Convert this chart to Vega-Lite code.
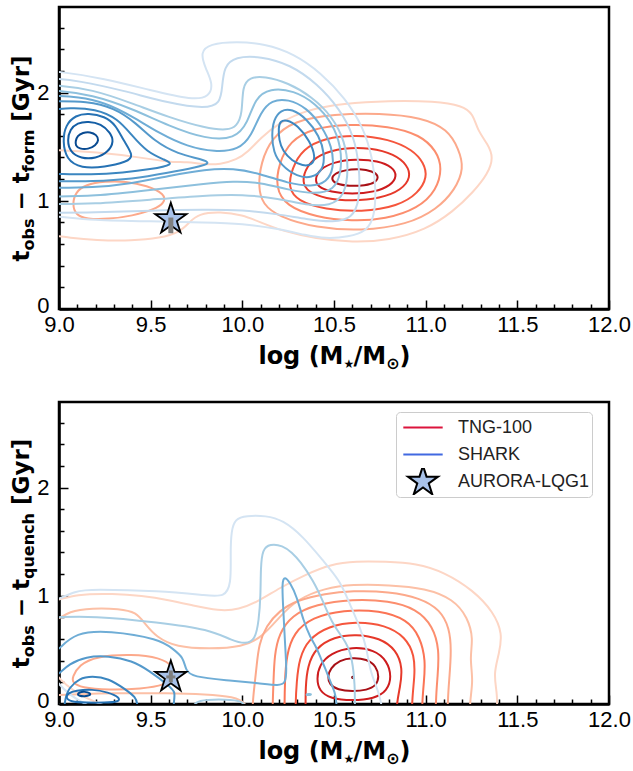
{
"$schema":"https://vega.github.io/schema/vega-lite/v6.json",
"background":"white",
"padding":{"left":8,"right":5,"top":5,"bottom":4},
"datasets":{
"topR":[
{"c":"T1","l":"r1","x":8.9,"y":1.47},{"c":"T1","l":"r1","x":8.98,"y":1.47},{"c":"T1","l":"r1","x":9.2,"y":1.45},{"c":"T1","l":"r1","x":9.45,"y":1.4},{"c":"T1","l":"r1","x":9.6,"y":1.355},{"c":"T1","l":"r1","x":9.7,"y":1.36},{"c":"T1","l":"r1","x":9.79,"y":1.335},{"c":"T1","l":"r1","x":9.88,"y":1.335},{"c":"T1","l":"r1","x":9.97,"y":1.38},{"c":"T1","l":"r1","x":10.03,"y":1.45},{"c":"T1","l":"r1","x":10.1,"y":1.58},{"c":"T1","l":"r1","x":10.2,"y":1.72},{"c":"T1","l":"r1","x":10.35,"y":1.84},{"c":"T1","l":"r1","x":10.55,"y":1.9},{"c":"T1","l":"r1","x":10.8,"y":1.925},{"c":"T1","l":"r1","x":11.05,"y":1.92},{"c":"T1","l":"r1","x":11.2,"y":1.88},{"c":"T1","l":"r1","x":11.26,"y":1.8},{"c":"T1","l":"r1","x":11.28,"y":1.66},{"c":"T1","l":"r1","x":11.34,"y":1.52},{"c":"T1","l":"r1","x":11.37,"y":1.4},{"c":"T1","l":"r1","x":11.34,"y":1.25},{"c":"T1","l":"r1","x":11.26,"y":1.08},{"c":"T1","l":"r1","x":11.15,"y":0.9},{"c":"T1","l":"r1","x":11.0,"y":0.73},{"c":"T1","l":"r1","x":10.8,"y":0.635},{"c":"T1","l":"r1","x":10.6,"y":0.615},{"c":"T1","l":"r1","x":10.4,"y":0.65},{"c":"T1","l":"r1","x":10.22,"y":0.72},{"c":"T1","l":"r1","x":10.1,"y":0.8},{"c":"T1","l":"r1","x":10.0,"y":0.87},{"c":"T1","l":"r1","x":9.88,"y":0.9},{"c":"T1","l":"r1","x":9.76,"y":0.88},{"c":"T1","l":"r1","x":9.71,"y":0.8},{"c":"T1","l":"r1","x":9.66,"y":0.71},{"c":"T1","l":"r1","x":9.55,"y":0.655},{"c":"T1","l":"r1","x":9.4,"y":0.63},{"c":"T1","l":"r1","x":9.2,"y":0.635},{"c":"T1","l":"r1","x":9.05,"y":0.66},{"c":"T1","l":"r1","x":8.98,"y":0.68},{"c":"T1","l":"r1","x":8.9,"y":0.68},
{"c":"T2","l":"r3","x":10.087,"y":1.12},{"c":"T2","l":"r3","x":10.1,"y":1.35},{"c":"T2","l":"r3","x":10.16,"y":1.58},{"c":"T2","l":"r3","x":10.28,"y":1.74},{"c":"T2","l":"r3","x":10.5,"y":1.8},{"c":"T2","l":"r3","x":10.75,"y":1.81},{"c":"T2","l":"r3","x":10.98,"y":1.77},{"c":"T2","l":"r3","x":11.12,"y":1.66},{"c":"T2","l":"r3","x":11.18,"y":1.48},{"c":"T2","l":"r3","x":11.21,"y":1.3},{"c":"T2","l":"r3","x":11.16,"y":1.1},{"c":"T2","l":"r3","x":11.06,"y":0.92},{"c":"T2","l":"r3","x":10.9,"y":0.78},{"c":"T2","l":"r3","x":10.65,"y":0.72},{"c":"T2","l":"r3","x":10.4,"y":0.75},{"c":"T2","l":"r3","x":10.2,"y":0.85},{"c":"T2","l":"r3","x":10.11,"y":0.97},
{"c":"T2L","l":"r3","x":9.073,"y":0.97},{"c":"T2L","l":"r3","x":9.09,"y":1.08},{"c":"T2L","l":"r3","x":9.145,"y":1.15},{"c":"T2L","l":"r3","x":9.25,"y":1.18},{"c":"T2L","l":"r3","x":9.364,"y":1.18},{"c":"T2L","l":"r3","x":9.48,"y":1.14},{"c":"T2L","l":"r3","x":9.58,"y":1.06},{"c":"T2L","l":"r3","x":9.575,"y":0.98},{"c":"T2L","l":"r3","x":9.52,"y":0.92},{"c":"T2L","l":"r3","x":9.4,"y":0.86},{"c":"T2L","l":"r3","x":9.27,"y":0.83},{"c":"T2L","l":"r3","x":9.15,"y":0.83},{"c":"T2L","l":"r3","x":9.09,"y":0.87},
{"c":"T3","l":"r4","x":10.18,"y":1.12},{"c":"T3","l":"r4","x":10.2,"y":1.35},{"c":"T3","l":"r4","x":10.26,"y":1.55},{"c":"T3","l":"r4","x":10.38,"y":1.67},{"c":"T3","l":"r4","x":10.58,"y":1.71},{"c":"T3","l":"r4","x":10.8,"y":1.69},{"c":"T3","l":"r4","x":10.97,"y":1.61},{"c":"T3","l":"r4","x":11.06,"y":1.46},{"c":"T3","l":"r4","x":11.09,"y":1.3},{"c":"T3","l":"r4","x":11.06,"y":1.1},{"c":"T3","l":"r4","x":10.96,"y":0.93},{"c":"T3","l":"r4","x":10.78,"y":0.83},{"c":"T3","l":"r4","x":10.6,"y":0.81},{"c":"T3","l":"r4","x":10.4,"y":0.85},{"c":"T3","l":"r4","x":10.24,"y":0.95},
{"c":"T4","l":"r6","x":10.25,"y":1.12},{"c":"T4","l":"r6","x":10.27,"y":1.3},{"c":"T4","l":"r6","x":10.33,"y":1.48},{"c":"T4","l":"r6","x":10.45,"y":1.58},{"c":"T4","l":"r6","x":10.62,"y":1.61},{"c":"T4","l":"r6","x":10.8,"y":1.57},{"c":"T4","l":"r6","x":10.93,"y":1.47},{"c":"T4","l":"r6","x":10.99,"y":1.35},{"c":"T4","l":"r6","x":11.01,"y":1.22},{"c":"T4","l":"r6","x":10.96,"y":1.07},{"c":"T4","l":"r6","x":10.85,"y":0.95},{"c":"T4","l":"r6","x":10.65,"y":0.895},{"c":"T4","l":"r6","x":10.45,"y":0.92},{"c":"T4","l":"r6","x":10.3,"y":1.0},
{"c":"T5","l":"r7","x":10.324,"y":1.17},{"c":"T5","l":"r7","x":10.35,"y":1.32},{"c":"T5","l":"r7","x":10.42,"y":1.43},{"c":"T5","l":"r7","x":10.55,"y":1.49},{"c":"T5","l":"r7","x":10.7,"y":1.49},{"c":"T5","l":"r7","x":10.83,"y":1.43},{"c":"T5","l":"r7","x":10.9,"y":1.33},{"c":"T5","l":"r7","x":10.92,"y":1.22},{"c":"T5","l":"r7","x":10.87,"y":1.1},{"c":"T5","l":"r7","x":10.75,"y":1.02},{"c":"T5","l":"r7","x":10.6,"y":0.997},{"c":"T5","l":"r7","x":10.45,"y":1.02},{"c":"T5","l":"r7","x":10.36,"y":1.08},
{"c":"T6","l":"r8","x":10.396,"y":1.2},{"c":"T6","l":"r8","x":10.42,"y":1.29},{"c":"T6","l":"r8","x":10.5,"y":1.36},{"c":"T6","l":"r8","x":10.62,"y":1.385},{"c":"T6","l":"r8","x":10.74,"y":1.37},{"c":"T6","l":"r8","x":10.82,"y":1.31},{"c":"T6","l":"r8","x":10.845,"y":1.23},{"c":"T6","l":"r8","x":10.81,"y":1.14},{"c":"T6","l":"r8","x":10.72,"y":1.08},{"c":"T6","l":"r8","x":10.6,"y":1.06},{"c":"T6","l":"r8","x":10.48,"y":1.08},{"c":"T6","l":"r8","x":10.41,"y":1.13},
{"c":"T7","l":"r9","x":10.484,"y":1.2},{"c":"T7","l":"r9","x":10.5,"y":1.25},{"c":"T7","l":"r9","x":10.56,"y":1.285},{"c":"T7","l":"r9","x":10.64,"y":1.295},{"c":"T7","l":"r9","x":10.71,"y":1.275},{"c":"T7","l":"r9","x":10.745,"y":1.23},{"c":"T7","l":"r9","x":10.73,"y":1.17},{"c":"T7","l":"r9","x":10.67,"y":1.14},{"c":"T7","l":"r9","x":10.58,"y":1.135},{"c":"T7","l":"r9","x":10.51,"y":1.155}
],
"topB":[
{"c":"C1","l":"b1","x":8.9,"y":0.86},{"c":"C1","l":"b1","x":8.98,"y":0.86},{"c":"C1","l":"b1","x":9.18,"y":0.82},{"c":"C1","l":"b1","x":9.5,"y":0.81},{"c":"C1","l":"b1","x":9.8,"y":0.8},{"c":"C1","l":"b1","x":10.0,"y":0.79},{"c":"C1","l":"b1","x":10.2,"y":0.74},{"c":"C1","l":"b1","x":10.35,"y":0.68},{"c":"C1","l":"b1","x":10.45,"y":0.65},{"c":"C1","l":"b1","x":10.58,"y":0.665},{"c":"C1","l":"b1","x":10.68,"y":0.72},{"c":"C1","l":"b1","x":10.72,"y":0.85},{"c":"C1","l":"b1","x":10.73,"y":1.1},{"c":"C1","l":"b1","x":10.71,"y":1.4},{"c":"C1","l":"b1","x":10.66,"y":1.68},{"c":"C1","l":"b1","x":10.56,"y":1.95},{"c":"C1","l":"b1","x":10.43,"y":2.18},{"c":"C1","l":"b1","x":10.28,"y":2.36},{"c":"C1","l":"b1","x":10.12,"y":2.45},{"c":"C1","l":"b1","x":9.97,"y":2.47},{"c":"C1","l":"b1","x":9.82,"y":2.45},{"c":"C1","l":"b1","x":9.77,"y":2.37},{"c":"C1","l":"b1","x":9.8,"y":2.22},{"c":"C1","l":"b1","x":9.84,"y":2.08},{"c":"C1","l":"b1","x":9.82,"y":1.96},{"c":"C1","l":"b1","x":9.73,"y":1.93},{"c":"C1","l":"b1","x":9.5,"y":2.02},{"c":"C1","l":"b1","x":9.25,"y":2.13},{"c":"C1","l":"b1","x":8.98,"y":2.2},{"c":"C1","l":"b1","x":8.9,"y":2.2},
{"c":"C2","l":"b2","x":8.9,"y":0.89},{"c":"C2","l":"b2","x":8.98,"y":0.89},{"c":"C2","l":"b2","x":9.18,"y":0.89},{"c":"C2","l":"b2","x":9.5,"y":0.91},{"c":"C2","l":"b2","x":9.8,"y":0.92},{"c":"C2","l":"b2","x":10.0,"y":0.915},{"c":"C2","l":"b2","x":10.2,"y":0.875},{"c":"C2","l":"b2","x":10.35,"y":0.83},{"c":"C2","l":"b2","x":10.5,"y":0.8},{"c":"C2","l":"b2","x":10.6,"y":0.84},{"c":"C2","l":"b2","x":10.64,"y":1.0},{"c":"C2","l":"b2","x":10.64,"y":1.3},{"c":"C2","l":"b2","x":10.61,"y":1.6},{"c":"C2","l":"b2","x":10.53,"y":1.85},{"c":"C2","l":"b2","x":10.41,"y":2.08},{"c":"C2","l":"b2","x":10.26,"y":2.26},{"c":"C2","l":"b2","x":10.1,"y":2.335},{"c":"C2","l":"b2","x":9.96,"y":2.33},{"c":"C2","l":"b2","x":9.9,"y":2.24},{"c":"C2","l":"b2","x":9.89,"y":2.05},{"c":"C2","l":"b2","x":9.88,"y":1.9},{"c":"C2","l":"b2","x":9.8,"y":1.85},{"c":"C2","l":"b2","x":9.6,"y":1.9},{"c":"C2","l":"b2","x":9.35,"y":2.02},{"c":"C2","l":"b2","x":9.1,"y":2.11},{"c":"C2","l":"b2","x":8.98,"y":2.13},{"c":"C2","l":"b2","x":8.9,"y":2.13},
{"c":"C3","l":"b3","x":8.9,"y":0.97},{"c":"C3","l":"b3","x":8.98,"y":0.97},{"c":"C3","l":"b3","x":9.18,"y":0.97},{"c":"C3","l":"b3","x":9.5,"y":1.01},{"c":"C3","l":"b3","x":9.8,"y":1.05},{"c":"C3","l":"b3","x":10.0,"y":1.06},{"c":"C3","l":"b3","x":10.2,"y":1.02},{"c":"C3","l":"b3","x":10.35,"y":0.96},{"c":"C3","l":"b3","x":10.48,"y":0.95},{"c":"C3","l":"b3","x":10.56,"y":1.05},{"c":"C3","l":"b3","x":10.58,"y":1.3},{"c":"C3","l":"b3","x":10.56,"y":1.55},{"c":"C3","l":"b3","x":10.49,"y":1.78},{"c":"C3","l":"b3","x":10.38,"y":1.96},{"c":"C3","l":"b3","x":10.25,"y":2.09},{"c":"C3","l":"b3","x":10.12,"y":2.15},{"c":"C3","l":"b3","x":10.04,"y":2.14},{"c":"C3","l":"b3","x":10.0,"y":2.06},{"c":"C3","l":"b3","x":10.0,"y":1.8},{"c":"C3","l":"b3","x":9.97,"y":1.69},{"c":"C3","l":"b3","x":9.92,"y":1.65},{"c":"C3","l":"b3","x":9.8,"y":1.67},{"c":"C3","l":"b3","x":9.6,"y":1.77},{"c":"C3","l":"b3","x":9.4,"y":1.9},{"c":"C3","l":"b3","x":9.18,"y":2.03},{"c":"C3","l":"b3","x":8.98,"y":2.07},{"c":"C3","l":"b3","x":8.9,"y":2.07},
{"c":"C4","l":"b4","x":8.9,"y":1.04},{"c":"C4","l":"b4","x":8.98,"y":1.04},{"c":"C4","l":"b4","x":9.18,"y":1.04},{"c":"C4","l":"b4","x":9.5,"y":1.1},{"c":"C4","l":"b4","x":9.8,"y":1.16},{"c":"C4","l":"b4","x":9.95,"y":1.18},{"c":"C4","l":"b4","x":10.1,"y":1.17},{"c":"C4","l":"b4","x":10.25,"y":1.1},{"c":"C4","l":"b4","x":10.4,"y":1.06},{"c":"C4","l":"b4","x":10.5,"y":1.1},{"c":"C4","l":"b4","x":10.54,"y":1.25},{"c":"C4","l":"b4","x":10.54,"y":1.5},{"c":"C4","l":"b4","x":10.49,"y":1.72},{"c":"C4","l":"b4","x":10.4,"y":1.9},{"c":"C4","l":"b4","x":10.28,"y":2.02},{"c":"C4","l":"b4","x":10.15,"y":2.04},{"c":"C4","l":"b4","x":10.07,"y":1.95},{"c":"C4","l":"b4","x":10.03,"y":1.72},{"c":"C4","l":"b4","x":9.96,"y":1.57},{"c":"C4","l":"b4","x":9.8,"y":1.57},{"c":"C4","l":"b4","x":9.6,"y":1.69},{"c":"C4","l":"b4","x":9.4,"y":1.85},{"c":"C4","l":"b4","x":9.18,"y":1.98},{"c":"C4","l":"b4","x":8.98,"y":2.02},{"c":"C4","l":"b4","x":8.9,"y":2.02},
{"c":"C5","l":"b5","x":8.9,"y":1.12},{"c":"C5","l":"b5","x":8.98,"y":1.12},{"c":"C5","l":"b5","x":9.18,"y":1.12},{"c":"C5","l":"b5","x":9.4,"y":1.16},{"c":"C5","l":"b5","x":9.6,"y":1.23},{"c":"C5","l":"b5","x":9.8,"y":1.29},{"c":"C5","l":"b5","x":9.95,"y":1.3},{"c":"C5","l":"b5","x":10.1,"y":1.25},{"c":"C5","l":"b5","x":10.25,"y":1.16},{"c":"C5","l":"b5","x":10.38,"y":1.13},{"c":"C5","l":"b5","x":10.46,"y":1.17},{"c":"C5","l":"b5","x":10.5,"y":1.3},{"c":"C5","l":"b5","x":10.49,"y":1.5},{"c":"C5","l":"b5","x":10.43,"y":1.7},{"c":"C5","l":"b5","x":10.35,"y":1.86},{"c":"C5","l":"b5","x":10.25,"y":1.94},{"c":"C5","l":"b5","x":10.16,"y":1.93},{"c":"C5","l":"b5","x":10.1,"y":1.82},{"c":"C5","l":"b5","x":10.05,"y":1.6},{"c":"C5","l":"b5","x":9.98,"y":1.47},{"c":"C5","l":"b5","x":9.85,"y":1.45},{"c":"C5","l":"b5","x":9.7,"y":1.5},{"c":"C5","l":"b5","x":9.55,"y":1.62},{"c":"C5","l":"b5","x":9.4,"y":1.78},{"c":"C5","l":"b5","x":9.25,"y":1.91},{"c":"C5","l":"b5","x":9.1,"y":1.96},{"c":"C5","l":"b5","x":8.98,"y":1.97},{"c":"C5","l":"b5","x":8.9,"y":1.97},
{"c":"C6","l":"b6","x":8.9,"y":1.18},{"c":"C6","l":"b6","x":8.98,"y":1.18},{"c":"C6","l":"b6","x":9.18,"y":1.18},{"c":"C6","l":"b6","x":9.4,"y":1.2},{"c":"C6","l":"b6","x":9.6,"y":1.26},{"c":"C6","l":"b6","x":9.75,"y":1.31},{"c":"C6","l":"b6","x":9.83,"y":1.345},{"c":"C6","l":"b6","x":9.78,"y":1.385},{"c":"C6","l":"b6","x":9.65,"y":1.43},{"c":"C6","l":"b6","x":9.52,"y":1.55},{"c":"C6","l":"b6","x":9.42,"y":1.72},{"c":"C6","l":"b6","x":9.3,"y":1.86},{"c":"C6","l":"b6","x":9.15,"y":1.92},{"c":"C6","l":"b6","x":8.98,"y":1.92},{"c":"C6","l":"b6","x":8.9,"y":1.92},
{"c":"C6R","l":"b6","x":10.16,"y":1.6},{"c":"C6R","l":"b6","x":10.17,"y":1.75},{"c":"C6R","l":"b6","x":10.21,"y":1.84},{"c":"C6R","l":"b6","x":10.27,"y":1.85},{"c":"C6R","l":"b6","x":10.35,"y":1.76},{"c":"C6R","l":"b6","x":10.42,"y":1.6},{"c":"C6R","l":"b6","x":10.45,"y":1.43},{"c":"C6R","l":"b6","x":10.44,"y":1.28},{"c":"C6R","l":"b6","x":10.38,"y":1.21},{"c":"C6R","l":"b6","x":10.3,"y":1.22},{"c":"C6R","l":"b6","x":10.21,"y":1.33},{"c":"C6R","l":"b6","x":10.17,"y":1.45},
{"c":"C7","l":"b7","x":8.9,"y":1.25},{"c":"C7","l":"b7","x":8.98,"y":1.25},{"c":"C7","l":"b7","x":9.18,"y":1.24},{"c":"C7","l":"b7","x":9.35,"y":1.26},{"c":"C7","l":"b7","x":9.5,"y":1.29},{"c":"C7","l":"b7","x":9.63,"y":1.335},{"c":"C7","l":"b7","x":9.58,"y":1.375},{"c":"C7","l":"b7","x":9.48,"y":1.45},{"c":"C7","l":"b7","x":9.4,"y":1.6},{"c":"C7","l":"b7","x":9.32,"y":1.76},{"c":"C7","l":"b7","x":9.2,"y":1.85},{"c":"C7","l":"b7","x":9.05,"y":1.86},{"c":"C7","l":"b7","x":8.98,"y":1.84},{"c":"C7","l":"b7","x":8.9,"y":1.84},
{"c":"C7R","l":"b7","x":10.197,"y":1.674},{"c":"C7R","l":"b7","x":10.206,"y":1.735},{"c":"C7R","l":"b7","x":10.24,"y":1.75},{"c":"C7R","l":"b7","x":10.3,"y":1.7},{"c":"C7R","l":"b7","x":10.37,"y":1.55},{"c":"C7R","l":"b7","x":10.4,"y":1.4},{"c":"C7R","l":"b7","x":10.38,"y":1.33},{"c":"C7R","l":"b7","x":10.33,"y":1.32},{"c":"C7R","l":"b7","x":10.27,"y":1.37},{"c":"C7R","l":"b7","x":10.22,"y":1.46},{"c":"C7R","l":"b7","x":10.2,"y":1.56},
{"c":"C8","l":"b8","x":9.02,"y":1.55},{"c":"C8","l":"b8","x":9.035,"y":1.7},{"c":"C8","l":"b8","x":9.09,"y":1.79},{"c":"C8","l":"b8","x":9.16,"y":1.81},{"c":"C8","l":"b8","x":9.25,"y":1.78},{"c":"C8","l":"b8","x":9.31,"y":1.7},{"c":"C8","l":"b8","x":9.35,"y":1.56},{"c":"C8","l":"b8","x":9.41,"y":1.41},{"c":"C8","l":"b8","x":9.37,"y":1.36},{"c":"C8","l":"b8","x":9.25,"y":1.31},{"c":"C8","l":"b8","x":9.12,"y":1.3},{"c":"C8","l":"b8","x":9.04,"y":1.38},
{"c":"C9","l":"b9","x":9.045,"y":1.56},{"c":"C9","l":"b9","x":9.06,"y":1.66},{"c":"C9","l":"b9","x":9.1,"y":1.72},{"c":"C9","l":"b9","x":9.16,"y":1.735},{"c":"C9","l":"b9","x":9.23,"y":1.71},{"c":"C9","l":"b9","x":9.28,"y":1.63},{"c":"C9","l":"b9","x":9.3,"y":1.55},{"c":"C9","l":"b9","x":9.27,"y":1.45},{"c":"C9","l":"b9","x":9.2,"y":1.39},{"c":"C9","l":"b9","x":9.12,"y":1.39},{"c":"C9","l":"b9","x":9.06,"y":1.45},
{"c":"C10","l":"b10","x":9.09,"y":1.55},{"c":"C10","l":"b10","x":9.1,"y":1.6},{"c":"C10","l":"b10","x":9.13,"y":1.63},{"c":"C10","l":"b10","x":9.17,"y":1.637},{"c":"C10","l":"b10","x":9.205,"y":1.61},{"c":"C10","l":"b10","x":9.218,"y":1.56},{"c":"C10","l":"b10","x":9.2,"y":1.51},{"c":"C10","l":"b10","x":9.16,"y":1.475},{"c":"C10","l":"b10","x":9.11,"y":1.48},{"c":"C10","l":"b10","x":9.09,"y":1.51}
],
"botR":[
{"c":"R1","l":"r1","x":8.9,"y":0.95},{"c":"R1","l":"r1","x":8.98,"y":0.95},{"c":"R1","l":"r1","x":9.09,"y":1.015},{"c":"R1","l":"r1","x":9.3,"y":1.02},{"c":"R1","l":"r1","x":9.45,"y":1.0},{"c":"R1","l":"r1","x":9.6,"y":0.96},{"c":"R1","l":"r1","x":9.73,"y":0.91},{"c":"R1","l":"r1","x":9.87,"y":0.86},{"c":"R1","l":"r1","x":9.98,"y":0.87},{"c":"R1","l":"r1","x":10.09,"y":0.95},{"c":"R1","l":"r1","x":10.2,"y":1.07},{"c":"R1","l":"r1","x":10.35,"y":1.2},{"c":"R1","l":"r1","x":10.48,"y":1.29},{"c":"R1","l":"r1","x":10.62,"y":1.32},{"c":"R1","l":"r1","x":10.78,"y":1.315},{"c":"R1","l":"r1","x":10.95,"y":1.3},{"c":"R1","l":"r1","x":11.1,"y":1.22},{"c":"R1","l":"r1","x":11.26,"y":1.05},{"c":"R1","l":"r1","x":11.37,"y":0.85},{"c":"R1","l":"r1","x":11.42,"y":0.65},{"c":"R1","l":"r1","x":11.4,"y":0.46},{"c":"R1","l":"r1","x":11.37,"y":0.28},{"c":"R1","l":"r1","x":11.39,"y":0.1},{"c":"R1","l":"r1","x":11.39,"y":-0.03},{"c":"R1","l":"r1","x":11.39,"y":-0.25},{"c":"R1","l":"r1","x":8.9,"y":-0.25},
{"c":"R2","l":"r2","x":8.9,"y":0.76},{"c":"R2","l":"r2","x":8.98,"y":0.76},{"c":"R2","l":"r2","x":9.055,"y":0.86},{"c":"R2","l":"r2","x":9.18,"y":0.886},{"c":"R2","l":"r2","x":9.33,"y":0.88},{"c":"R2","l":"r2","x":9.42,"y":0.85},{"c":"R2","l":"r2","x":9.47,"y":0.74},{"c":"R2","l":"r2","x":9.53,"y":0.62},{"c":"R2","l":"r2","x":9.64,"y":0.525},{"c":"R2","l":"r2","x":9.82,"y":0.51},{"c":"R2","l":"r2","x":10.0,"y":0.525},{"c":"R2","l":"r2","x":10.11,"y":0.62},{"c":"R2","l":"r2","x":10.2,"y":0.8},{"c":"R2","l":"r2","x":10.3,"y":0.97},{"c":"R2","l":"r2","x":10.45,"y":1.07},{"c":"R2","l":"r2","x":10.6,"y":1.105},{"c":"R2","l":"r2","x":10.8,"y":1.1},{"c":"R2","l":"r2","x":11.0,"y":1.07},{"c":"R2","l":"r2","x":11.15,"y":0.97},{"c":"R2","l":"r2","x":11.23,"y":0.8},{"c":"R2","l":"r2","x":11.26,"y":0.6},{"c":"R2","l":"r2","x":11.24,"y":0.43},{"c":"R2","l":"r2","x":11.26,"y":0.215},{"c":"R2","l":"r2","x":11.24,"y":0.03},{"c":"R2","l":"r2","x":11.24,"y":-0.25},{"c":"R2","l":"r2","x":10.04,"y":-0.25},{"c":"R2","l":"r2","x":10.04,"y":0.0},{"c":"R2","l":"r2","x":9.95,"y":0.07},{"c":"R2","l":"r2","x":9.8,"y":0.09},{"c":"R2","l":"r2","x":9.6,"y":0.1},{"c":"R2","l":"r2","x":9.3,"y":0.1},{"c":"R2","l":"r2","x":9.1,"y":0.09},{"c":"R2","l":"r2","x":8.98,"y":0.08},{"c":"R2","l":"r2","x":8.9,"y":0.08},
{"c":"R3","l":"r3","x":10.055,"y":-0.25},{"c":"R3","l":"r3","x":10.055,"y":0.0},{"c":"R3","l":"r3","x":10.065,"y":0.15},{"c":"R3","l":"r3","x":10.078,"y":0.35},{"c":"R3","l":"r3","x":10.09,"y":0.55},{"c":"R3","l":"r3","x":10.13,"y":0.72},{"c":"R3","l":"r3","x":10.2,"y":0.86},{"c":"R3","l":"r3","x":10.3,"y":0.96},{"c":"R3","l":"r3","x":10.45,"y":1.02},{"c":"R3","l":"r3","x":10.6,"y":1.046},{"c":"R3","l":"r3","x":10.8,"y":1.04},{"c":"R3","l":"r3","x":10.97,"y":0.98},{"c":"R3","l":"r3","x":11.08,"y":0.87},{"c":"R3","l":"r3","x":11.13,"y":0.7},{"c":"R3","l":"r3","x":11.14,"y":0.5},{"c":"R3","l":"r3","x":11.13,"y":0.25},{"c":"R3","l":"r3","x":11.12,"y":0.05},{"c":"R3","l":"r3","x":11.12,"y":-0.25},
{"c":"R3L","l":"r3","x":9.073,"y":0.25},{"c":"R3L","l":"r3","x":9.11,"y":0.36},{"c":"R3L","l":"r3","x":9.2,"y":0.44},{"c":"R3L","l":"r3","x":9.4,"y":0.46},{"c":"R3L","l":"r3","x":9.55,"y":0.43},{"c":"R3L","l":"r3","x":9.625,"y":0.35},{"c":"R3L","l":"r3","x":9.635,"y":0.25},{"c":"R3L","l":"r3","x":9.58,"y":0.175},{"c":"R3L","l":"r3","x":9.45,"y":0.14},{"c":"R3L","l":"r3","x":9.27,"y":0.13},{"c":"R3L","l":"r3","x":9.12,"y":0.15},{"c":"R3L","l":"r3","x":9.073,"y":0.2},
{"c":"R4","l":"r4","x":10.165,"y":-0.25},{"c":"R4","l":"r4","x":10.165,"y":0.0},{"c":"R4","l":"r4","x":10.17,"y":0.2},{"c":"R4","l":"r4","x":10.175,"y":0.45},{"c":"R4","l":"r4","x":10.2,"y":0.65},{"c":"R4","l":"r4","x":10.27,"y":0.82},{"c":"R4","l":"r4","x":10.4,"y":0.92},{"c":"R4","l":"r4","x":10.6,"y":0.97},{"c":"R4","l":"r4","x":10.8,"y":0.955},{"c":"R4","l":"r4","x":10.95,"y":0.88},{"c":"R4","l":"r4","x":11.04,"y":0.72},{"c":"R4","l":"r4","x":11.075,"y":0.5},{"c":"R4","l":"r4","x":11.065,"y":0.25},{"c":"R4","l":"r4","x":11.055,"y":0.05},{"c":"R4","l":"r4","x":11.055,"y":-0.25},
{"c":"R5","l":"r5","x":10.23,"y":-0.25},{"c":"R5","l":"r5","x":10.23,"y":0.0},{"c":"R5","l":"r5","x":10.232,"y":0.2},{"c":"R5","l":"r5","x":10.24,"y":0.45},{"c":"R5","l":"r5","x":10.28,"y":0.66},{"c":"R5","l":"r5","x":10.38,"y":0.8},{"c":"R5","l":"r5","x":10.55,"y":0.87},{"c":"R5","l":"r5","x":10.75,"y":0.865},{"c":"R5","l":"r5","x":10.9,"y":0.78},{"c":"R5","l":"r5","x":10.97,"y":0.62},{"c":"R5","l":"r5","x":11.0,"y":0.4},{"c":"R5","l":"r5","x":10.99,"y":0.2},{"c":"R5","l":"r5","x":10.98,"y":0.0},{"c":"R5","l":"r5","x":10.98,"y":-0.25},
{"c":"R6","l":"r6","x":10.29,"y":-0.25},{"c":"R6","l":"r6","x":10.29,"y":0.0},{"c":"R6","l":"r6","x":10.296,"y":0.2},{"c":"R6","l":"r6","x":10.31,"y":0.42},{"c":"R6","l":"r6","x":10.36,"y":0.6},{"c":"R6","l":"r6","x":10.47,"y":0.72},{"c":"R6","l":"r6","x":10.62,"y":0.763},{"c":"R6","l":"r6","x":10.78,"y":0.73},{"c":"R6","l":"r6","x":10.89,"y":0.62},{"c":"R6","l":"r6","x":10.94,"y":0.45},{"c":"R6","l":"r6","x":10.94,"y":0.25},{"c":"R6","l":"r6","x":10.925,"y":0.05},{"c":"R6","l":"r6","x":10.925,"y":-0.25},
{"c":"R7","l":"r7","x":10.345,"y":-0.25},{"c":"R7","l":"r7","x":10.345,"y":0.0},{"c":"R7","l":"r7","x":10.345,"y":0.15},{"c":"R7","l":"r7","x":10.355,"y":0.35},{"c":"R7","l":"r7","x":10.4,"y":0.52},{"c":"R7","l":"r7","x":10.5,"y":0.62},{"c":"R7","l":"r7","x":10.62,"y":0.646},{"c":"R7","l":"r7","x":10.75,"y":0.61},{"c":"R7","l":"r7","x":10.84,"y":0.5},{"c":"R7","l":"r7","x":10.875,"y":0.33},{"c":"R7","l":"r7","x":10.86,"y":0.15},{"c":"R7","l":"r7","x":10.84,"y":0.0},{"c":"R7","l":"r7","x":10.84,"y":-0.25},
{"c":"R8","l":"r8","x":10.405,"y":0.23},{"c":"R8","l":"r8","x":10.42,"y":0.36},{"c":"R8","l":"r8","x":10.48,"y":0.47},{"c":"R8","l":"r8","x":10.6,"y":0.53},{"c":"R8","l":"r8","x":10.72,"y":0.5},{"c":"R8","l":"r8","x":10.79,"y":0.4},{"c":"R8","l":"r8","x":10.815,"y":0.25},{"c":"R8","l":"r8","x":10.79,"y":0.12},{"c":"R8","l":"r8","x":10.72,"y":0.05},{"c":"R8","l":"r8","x":10.6,"y":0.03},{"c":"R8","l":"r8","x":10.48,"y":0.05},{"c":"R8","l":"r8","x":10.42,"y":0.12},
{"c":"R9","l":"r9","x":10.465,"y":0.25},{"c":"R9","l":"r9","x":10.48,"y":0.33},{"c":"R9","l":"r9","x":10.53,"y":0.405},{"c":"R9","l":"r9","x":10.6,"y":0.43},{"c":"R9","l":"r9","x":10.68,"y":0.415},{"c":"R9","l":"r9","x":10.73,"y":0.35},{"c":"R9","l":"r9","x":10.747,"y":0.25},{"c":"R9","l":"r9","x":10.73,"y":0.17},{"c":"R9","l":"r9","x":10.68,"y":0.128},{"c":"R9","l":"r9","x":10.6,"y":0.115},{"c":"R9","l":"r9","x":10.52,"y":0.13},{"c":"R9","l":"r9","x":10.475,"y":0.18},
{"c":"R10","l":"r10","x":10.597,"y":0.246},{"c":"R10","l":"r10","x":10.602,"y":0.254},{"c":"R10","l":"r10","x":10.607,"y":0.246},{"c":"R10","l":"r10","x":10.602,"y":0.238}
],
"botB":[
{"c":"D1","l":"b1","x":8.9,"y":0.95},{"c":"D1","l":"b1","x":8.98,"y":0.95},{"c":"D1","l":"b1","x":9.09,"y":1.046},{"c":"D1","l":"b1","x":9.18,"y":1.06},{"c":"D1","l":"b1","x":9.545,"y":1.046},{"c":"D1","l":"b1","x":9.82,"y":1.0},{"c":"D1","l":"b1","x":9.9,"y":0.99},{"c":"D1","l":"b1","x":9.94,"y":1.1},{"c":"D1","l":"b1","x":9.935,"y":1.4},{"c":"D1","l":"b1","x":9.94,"y":1.6},{"c":"D1","l":"b1","x":9.96,"y":1.71},{"c":"D1","l":"b1","x":10.02,"y":1.74},{"c":"D1","l":"b1","x":10.13,"y":1.74},{"c":"D1","l":"b1","x":10.22,"y":1.7},{"c":"D1","l":"b1","x":10.33,"y":1.55},{"c":"D1","l":"b1","x":10.442,"y":1.32},{"c":"D1","l":"b1","x":10.533,"y":1.14},{"c":"D1","l":"b1","x":10.587,"y":0.92},{"c":"D1","l":"b1","x":10.642,"y":0.708},{"c":"D1","l":"b1","x":10.678,"y":0.523},{"c":"D1","l":"b1","x":10.696,"y":0.308},{"c":"D1","l":"b1","x":10.733,"y":0.154},{"c":"D1","l":"b1","x":10.76,"y":0.03},{"c":"D1","l":"b1","x":10.77,"y":-0.25},{"c":"D1","l":"b1","x":8.9,"y":-0.25},
{"c":"D3","l":"b3","x":8.9,"y":0.8},{"c":"D3","l":"b3","x":8.98,"y":0.8},{"c":"D3","l":"b3","x":9.18,"y":0.815},{"c":"D3","l":"b3","x":9.545,"y":0.754},{"c":"D3","l":"b3","x":9.82,"y":0.69},{"c":"D3","l":"b3","x":9.945,"y":0.585},{"c":"D3","l":"b3","x":10.018,"y":0.554},{"c":"D3","l":"b3","x":10.07,"y":0.59},{"c":"D3","l":"b3","x":10.09,"y":0.77},{"c":"D3","l":"b3","x":10.1,"y":1.0},{"c":"D3","l":"b3","x":10.1,"y":1.26},{"c":"D3","l":"b3","x":10.11,"y":1.43},{"c":"D3","l":"b3","x":10.15,"y":1.48},{"c":"D3","l":"b3","x":10.22,"y":1.465},{"c":"D3","l":"b3","x":10.27,"y":1.4},{"c":"D3","l":"b3","x":10.315,"y":1.32},{"c":"D3","l":"b3","x":10.387,"y":1.14},{"c":"D3","l":"b3","x":10.44,"y":0.95},{"c":"D3","l":"b3","x":10.496,"y":0.72},{"c":"D3","l":"b3","x":10.57,"y":0.57},{"c":"D3","l":"b3","x":10.6,"y":0.415},{"c":"D3","l":"b3","x":10.614,"y":0.17},{"c":"D3","l":"b3","x":10.614,"y":0.0},{"c":"D3","l":"b3","x":10.614,"y":-0.25},{"c":"D3","l":"b3","x":10.04,"y":-0.25},{"c":"D3","l":"b3","x":10.03,"y":-0.02},{"c":"D3","l":"b3","x":9.99,"y":0.035},{"c":"D3","l":"b3","x":9.87,"y":0.045},{"c":"D3","l":"b3","x":9.76,"y":0.035},{"c":"D3","l":"b3","x":9.72,"y":-0.02},{"c":"D3","l":"b3","x":9.72,"y":-0.25},{"c":"D3","l":"b3","x":8.9,"y":-0.25},
{"c":"D5","l":"b5","x":8.9,"y":0.47},{"c":"D5","l":"b5","x":8.98,"y":0.48},{"c":"D5","l":"b5","x":9.0,"y":0.51},{"c":"D5","l":"b5","x":9.09,"y":0.66},{"c":"D5","l":"b5","x":9.27,"y":0.68},{"c":"D5","l":"b5","x":9.55,"y":0.6},{"c":"D5","l":"b5","x":9.62,"y":0.51},{"c":"D5","l":"b5","x":9.68,"y":0.43},{"c":"D5","l":"b5","x":9.69,"y":0.31},{"c":"D5","l":"b5","x":9.73,"y":0.25},{"c":"D5","l":"b5","x":9.91,"y":0.22},{"c":"D5","l":"b5","x":10.1,"y":0.19},{"c":"D5","l":"b5","x":10.2,"y":0.17},{"c":"D5","l":"b5","x":10.235,"y":0.19},{"c":"D5","l":"b5","x":10.242,"y":0.31},{"c":"D5","l":"b5","x":10.233,"y":0.55},{"c":"D5","l":"b5","x":10.224,"y":0.86},{"c":"D5","l":"b5","x":10.215,"y":1.13},{"c":"D5","l":"b5","x":10.232,"y":1.18},{"c":"D5","l":"b5","x":10.26,"y":1.12},{"c":"D5","l":"b5","x":10.296,"y":1.0},{"c":"D5","l":"b5","x":10.333,"y":0.77},{"c":"D5","l":"b5","x":10.37,"y":0.615},{"c":"D5","l":"b5","x":10.405,"y":0.523},{"c":"D5","l":"b5","x":10.433,"y":0.4},{"c":"D5","l":"b5","x":10.45,"y":0.34},{"c":"D5","l":"b5","x":10.478,"y":0.215},{"c":"D5","l":"b5","x":10.505,"y":0.107},{"c":"D5","l":"b5","x":10.515,"y":0.03},{"c":"D5","l":"b5","x":10.515,"y":-0.25},{"c":"D5","l":"b5","x":8.9,"y":-0.25},
{"c":"D6","l":"b6","x":8.9,"y":0.25},{"c":"D6","l":"b6","x":8.98,"y":0.26},{"c":"D6","l":"b6","x":9.0,"y":0.28},{"c":"D6","l":"b6","x":9.055,"y":0.37},{"c":"D6","l":"b6","x":9.145,"y":0.437},{"c":"D6","l":"b6","x":9.27,"y":0.446},{"c":"D6","l":"b6","x":9.4,"y":0.4},{"c":"D6","l":"b6","x":9.49,"y":0.31},{"c":"D6","l":"b6","x":9.6,"y":0.17},{"c":"D6","l":"b6","x":9.636,"y":0.108},{"c":"D6","l":"b6","x":9.625,"y":0.03},{"c":"D6","l":"b6","x":9.62,"y":-0.25},{"c":"D6","l":"b6","x":8.9,"y":-0.25},
{"c":"D7","l":"b7","x":9.02,"y":-0.25},{"c":"D7","l":"b7","x":9.03,"y":0.05},{"c":"D7","l":"b7","x":9.055,"y":0.15},{"c":"D7","l":"b7","x":9.11,"y":0.237},{"c":"D7","l":"b7","x":9.18,"y":0.258},{"c":"D7","l":"b7","x":9.27,"y":0.237},{"c":"D7","l":"b7","x":9.36,"y":0.138},{"c":"D7","l":"b7","x":9.42,"y":0.06},{"c":"D7","l":"b7","x":9.43,"y":0.0},{"c":"D7","l":"b7","x":9.43,"y":-0.25},
{"c":"D8","l":"b8","x":9.036,"y":0.062},{"c":"D8","l":"b8","x":9.05,"y":0.1},{"c":"D8","l":"b8","x":9.09,"y":0.123},{"c":"D8","l":"b8","x":9.18,"y":0.138},{"c":"D8","l":"b8","x":9.27,"y":0.108},{"c":"D8","l":"b8","x":9.33,"y":0.06},{"c":"D8","l":"b8","x":9.33,"y":0.02},{"c":"D8","l":"b8","x":9.25,"y":0.012},{"c":"D8","l":"b8","x":9.15,"y":0.012},{"c":"D8","l":"b8","x":9.06,"y":0.02},
{"c":"D10","l":"b10","x":9.1,"y":0.09},{"c":"D10","l":"b10","x":9.11,"y":0.108},{"c":"D10","l":"b10","x":9.14,"y":0.116},{"c":"D10","l":"b10","x":9.173,"y":0.1},{"c":"D10","l":"b10","x":9.17,"y":0.08},{"c":"D10","l":"b10","x":9.14,"y":0.07},{"c":"D10","l":"b10","x":9.11,"y":0.075},
{"c":"D4","l":"b4","x":10.345,"y":0.085},{"c":"D4","l":"b4","x":10.36,"y":0.095},{"c":"D4","l":"b4","x":10.38,"y":0.09},{"c":"D4","l":"b4","x":10.365,"y":0.08}
],
"stars":[
{"p":"top","s":"AURORA-LQG1","x":9.61,"y":0.83,"ylo":0.7,"yhi":0.845,"xlo":9.61,"xhi":9.61},
{"p":"bot","s":"AURORA-LQG1","x":9.61,"y":0.25,"ylo":0.2,"yhi":0.31,"xlo":9.585,"xhi":9.635}
]
},
"vconcat":[
{
"width":550,"height":302,
"resolve":{"axis":{"x":"independent","y":"independent"}},
"layer":[
{"data":{"name":"topR"},"mark":{"type":"line","interpolate":"basis-closed","strokeWidth":2,"clip":true},
 "encoding":{
  "x":{"field":"x","type":"quantitative","scale":{"domain":[9,12],"nice":false,"zero":false},
   "axis":{"orient":"bottom","title":null,"values":[9,9.1,9.2,9.3,9.4,9.5,9.6,9.7,9.8,9.9,10,10.1,10.2,10.3,10.4,10.5,10.6,10.7,10.8,10.9,11,11.1,11.2,11.3,11.4,11.5,11.6,11.7,11.8,11.9,12],
    "labelExpr":"abs(datum.value*2-round(datum.value*2))<0.001 ? format(datum.value,'.1f') : ''","labelOverlap":false,"labelFlush":false,"labelPadding":14,
    "tickSize":{"condition":{"test":"abs(datum.value*2-round(datum.value*2))<0.001","value":-9},"value":-5}}},
  "y":{"field":"y","type":"quantitative","scale":{"domain":[0,2.79],"nice":false},
   "axis":{"orient":"left","title":null,"values":[0,0.2,0.4,0.6,0.8,1,1.2,1.4,1.6,1.8,2,2.2,2.4,2.6],
    "labelExpr":"abs(datum.value-round(datum.value))<0.001 ? format(datum.value,'d') : ''","labelOverlap":false,"labelPadding":19,
    "labelOffset":{"condition":{"test":"datum.value===0","value":-4},"value":0},
    "tickSize":{"condition":{"test":"abs(datum.value-round(datum.value))<0.001","value":-9},"value":-5}}},
  "color":{"field":"l","type":"nominal","legend":null,"scale":{"domain":["r1","r2","r3","r4","r5","r6","r7","r8","r9","r10","b1","b2","b3","b4","b5","b6","b7","b8","b9","b10"],"range":["#fdd6c5","#fcc0a6","#fca98b","#fc8e6e","#fb7455","#f5553c","#e6392a","#cd1c1e","#a81016","#7a0510","#d4e4f3","#c3daee","#a8cee4","#8dc0dd","#6fadd6","#5499cb","#3b86c0","#2672b4","#145ea5","#084a91"]}},
  "detail":{"field":"c"},
  "order":{"value":null}}},
{"data":{"name":"topB"},"mark":{"type":"line","interpolate":"basis-closed","strokeWidth":2,"clip":true},
 "encoding":{
  "x":{"field":"x","type":"quantitative","axis":null},
  "y":{"field":"y","type":"quantitative","axis":null},
  "color":{"field":"l","type":"nominal","legend":null},
  "detail":{"field":"c"},
  "order":{"value":null}}},
{"data":{"name":"stars"},"transform":[{"filter":"datum.p==='top'"}],
 "mark":{"type":"point","filled":true,"fill":"#a8c2ea","stroke":"black","strokeWidth":1.8,"opacity":1,"size":1700,"shape":"M0,-0.8L0.1796,-0.2472L0.7608,-0.2472L0.2906,0.0944L0.4702,0.6472L0,0.3056L-0.4702,0.6472L-0.2906,0.0944L-0.7608,-0.2472L-0.1796,-0.2472Z"},
 "encoding":{"x":{"field":"x","type":"quantitative","axis":null},"y":{"field":"y","type":"quantitative","axis":null}}},
{"data":{"name":"stars"},"transform":[{"filter":"datum.p==='top'"}],
 "mark":{"type":"rule","color":"#808080","strokeWidth":5},
 "encoding":{"x":{"field":"x","type":"quantitative","axis":null},"y":{"field":"ylo","type":"quantitative","axis":null},"y2":{"field":"yhi"}}},
{"data":{"name":"stars"},"transform":[{"filter":"datum.p==='top'"}],"mark":{"type":"point","opacity":0},
 "encoding":{"x":{"field":"x","type":"quantitative","axis":{"orient":"bottom","title":"log\u00a0(M","titleX":198.9,"titleY":54,"titleFontSize":24,"domain":false,"ticks":false,"labels":false,"titleAlign":"left","titleBaseline":"alphabetic","titleAngle":0}},
  "y":{"field":"y","type":"quantitative","axis":{"orient":"left","title":"t","titleX":-31,"titleY":254,"titleFontSize":23,"domain":false,"ticks":false,"labels":false,"titleAlign":"left","titleBaseline":"alphabetic","titleAngle":-90}}}},
{"data":{"name":"stars"},"transform":[{"filter":"datum.p==='top'"}],"mark":{"type":"point","opacity":0},
 "encoding":{"x":{"field":"x","type":"quantitative","axis":{"orient":"bottom","title":"★","titleX":284.0,"titleY":58,"titleFontSize":12,"domain":false,"ticks":false,"labels":false,"titleAlign":"left","titleBaseline":"alphabetic","titleAngle":0}},
  "y":{"field":"y","type":"quantitative","axis":{"orient":"left","title":"obs","titleX":-26,"titleY":243,"titleFontSize":16,"domain":false,"ticks":false,"labels":false,"titleAlign":"left","titleBaseline":"alphabetic","titleAngle":-90}}}},
{"data":{"name":"stars"},"transform":[{"filter":"datum.p==='top'"}],"mark":{"type":"point","opacity":0},
 "encoding":{"x":{"field":"x","type":"quantitative","axis":{"orient":"bottom","title":"/M","titleX":294.1,"titleY":54,"titleFontSize":24,"domain":false,"ticks":false,"labels":false,"titleAlign":"left","titleBaseline":"alphabetic","titleAngle":0}},
  "y":{"field":"y","type":"quantitative","axis":{"orient":"left","title":"−\u00a0t","titleX":-31,"titleY":203,"titleFontSize":23,"domain":false,"ticks":false,"labels":false,"titleAlign":"left","titleBaseline":"alphabetic","titleAngle":-90}}}},
{"data":{"name":"stars"},"transform":[{"filter":"datum.p==='top'"}],"mark":{"type":"point","opacity":0},
 "encoding":{"x":{"field":"x","type":"quantitative","axis":{"orient":"bottom","title":"⊙","titleX":326.7,"titleY":59,"titleFontSize":16,"domain":false,"ticks":false,"labels":false,"titleAlign":"left","titleBaseline":"alphabetic","titleAngle":0}},
  "y":{"field":"y","type":"quantitative","axis":{"orient":"left","title":"form","titleX":-26,"titleY":164.7,"titleFontSize":16,"domain":false,"ticks":false,"labels":false,"titleAlign":"left","titleBaseline":"alphabetic","titleAngle":-90}}}},
{"data":{"name":"stars"},"transform":[{"filter":"datum.p==='top'"}],"mark":{"type":"point","opacity":0},
 "encoding":{"x":{"field":"x","type":"quantitative","axis":{"orient":"bottom","title":")","titleX":340.1,"titleY":54,"titleFontSize":24,"domain":false,"ticks":false,"labels":false,"titleAlign":"left","titleBaseline":"alphabetic","titleAngle":0}},
  "y":{"field":"y","type":"quantitative","axis":{"orient":"left","title":"[Gyr]","titleX":-31,"titleY":114.2,"titleFontSize":23,"domain":false,"ticks":false,"labels":false,"titleAlign":"left","titleBaseline":"alphabetic","titleAngle":-90}}}}
]
},
{
"width":550,"height":302,
"resolve":{"axis":{"x":"independent","y":"independent"}},
"layer":[
{"data":{"name":"botR"},"mark":{"type":"line","interpolate":"basis-closed","strokeWidth":2,"clip":true},
 "encoding":{
  "x":{"field":"x","type":"quantitative","scale":{"domain":[9,12],"nice":false,"zero":false},
   "axis":{"orient":"bottom","title":null,"values":[9,9.1,9.2,9.3,9.4,9.5,9.6,9.7,9.8,9.9,10,10.1,10.2,10.3,10.4,10.5,10.6,10.7,10.8,10.9,11,11.1,11.2,11.3,11.4,11.5,11.6,11.7,11.8,11.9,12],
    "labelExpr":"abs(datum.value*2-round(datum.value*2))<0.001 ? format(datum.value,'.1f') : ''","labelOverlap":false,"labelFlush":false,"labelPadding":14,
    "tickSize":{"condition":{"test":"abs(datum.value*2-round(datum.value*2))<0.001","value":-9},"value":-5}}},
  "y":{"field":"y","type":"quantitative","scale":{"domain":[0,2.79],"nice":false},
   "axis":{"orient":"left","title":null,"values":[0,0.2,0.4,0.6,0.8,1,1.2,1.4,1.6,1.8,2,2.2,2.4,2.6],
    "labelExpr":"abs(datum.value-round(datum.value))<0.001 ? format(datum.value,'d') : ''","labelOverlap":false,"labelPadding":19,
    "labelOffset":{"condition":{"test":"datum.value===0","value":-4},"value":0},
    "tickSize":{"condition":{"test":"abs(datum.value-round(datum.value))<0.001","value":-9},"value":-5}}},
  "color":{"field":"l","type":"nominal","legend":null,"scale":{"domain":["r1","r2","r3","r4","r5","r6","r7","r8","r9","r10","b1","b2","b3","b4","b5","b6","b7","b8","b9","b10"],"range":["#fdd6c5","#fcc0a6","#fca98b","#fc8e6e","#fb7455","#f5553c","#e6392a","#cd1c1e","#a81016","#7a0510","#d4e4f3","#c3daee","#a8cee4","#8dc0dd","#6fadd6","#5499cb","#3b86c0","#2672b4","#145ea5","#084a91"]}},
  "detail":{"field":"c"},
  "order":{"value":null}}},
{"data":{"name":"botB"},"mark":{"type":"line","interpolate":"basis-closed","strokeWidth":2,"clip":true},
 "encoding":{
  "x":{"field":"x","type":"quantitative","axis":null},
  "y":{"field":"y","type":"quantitative","axis":null},
  "color":{"field":"l","type":"nominal","legend":null},
  "detail":{"field":"c"},
  "order":{"value":null}}},
{"data":{"name":"stars"},"transform":[{"filter":"datum.p==='bot'"}],
 "mark":{"type":"point","filled":true,"strokeWidth":1.8,"opacity":1,"size":1700},
 "encoding":{"x":{"field":"x","type":"quantitative","axis":null},"y":{"field":"y","type":"quantitative","axis":null},
  "fill":{"field":"s","type":"nominal","scale":{"domain":["TNG-100","SHARK","AURORA-LQG1"],"range":["#dc143c","#4169e1","#a8c2ea"]},
   "legend":{"title":null,"orient":"none","legendX":337,"legendY":10,"symbolSize":1550,"symbolStrokeWidth":2,"symbolOffset":4,"clipHeight":27,"rowPadding":0,"labelFont":"Liberation Sans","labelFontSize":18,"labelColor":"#222","labelOffset":14,"padding":2,"strokeColor":"#cccccc","fillColor":"white","cornerRadius":4}},
  "stroke":{"field":"s","type":"nominal","scale":{"domain":["TNG-100","SHARK","AURORA-LQG1"],"range":["#dc143c","#4169e1","black"]}},
  "shape":{"field":"s","type":"nominal","scale":{"domain":["TNG-100","SHARK","AURORA-LQG1"],"range":["stroke","stroke","M0,-0.8L0.1796,-0.2472L0.7608,-0.2472L0.2906,0.0944L0.4702,0.6472L0,0.3056L-0.4702,0.6472L-0.2906,0.0944L-0.7608,-0.2472L-0.1796,-0.2472Z"]}}}},
{"data":{"name":"stars"},"transform":[{"filter":"datum.p==='bot'"}],
 "mark":{"type":"rule","color":"#808080","strokeWidth":4},
 "encoding":{"x":{"field":"x","type":"quantitative","axis":null},"y":{"field":"ylo","type":"quantitative","axis":null},"y2":{"field":"yhi"}}},
{"data":{"name":"stars"},"transform":[{"filter":"datum.p==='bot'"}],
 "mark":{"type":"rule","color":"#808080","strokeWidth":3},
 "encoding":{"x":{"field":"xlo","type":"quantitative","axis":null},"x2":{"field":"xhi"},"y":{"field":"y","type":"quantitative","axis":null}}},
{"data":{"name":"stars"},"transform":[{"filter":"datum.p==='bot'"}],"mark":{"type":"point","opacity":0},
 "encoding":{"x":{"field":"x","type":"quantitative","axis":{"orient":"bottom","title":"log\u00a0(M","titleX":198.9,"titleY":54,"titleFontSize":24,"domain":false,"ticks":false,"labels":false,"titleAlign":"left","titleBaseline":"alphabetic","titleAngle":0}},
  "y":{"field":"y","type":"quantitative","axis":{"orient":"left","title":"t","titleX":-31,"titleY":265.8,"titleFontSize":23,"domain":false,"ticks":false,"labels":false,"titleAlign":"left","titleBaseline":"alphabetic","titleAngle":-90}}}},
{"data":{"name":"stars"},"transform":[{"filter":"datum.p==='bot'"}],"mark":{"type":"point","opacity":0},
 "encoding":{"x":{"field":"x","type":"quantitative","axis":{"orient":"bottom","title":"★","titleX":284.0,"titleY":58,"titleFontSize":12,"domain":false,"ticks":false,"labels":false,"titleAlign":"left","titleBaseline":"alphabetic","titleAngle":0}},
  "y":{"field":"y","type":"quantitative","axis":{"orient":"left","title":"obs","titleX":-26,"titleY":254.8,"titleFontSize":16,"domain":false,"ticks":false,"labels":false,"titleAlign":"left","titleBaseline":"alphabetic","titleAngle":-90}}}},
{"data":{"name":"stars"},"transform":[{"filter":"datum.p==='bot'"}],"mark":{"type":"point","opacity":0},
 "encoding":{"x":{"field":"x","type":"quantitative","axis":{"orient":"bottom","title":"/M","titleX":294.1,"titleY":54,"titleFontSize":24,"domain":false,"ticks":false,"labels":false,"titleAlign":"left","titleBaseline":"alphabetic","titleAngle":0}},
  "y":{"field":"y","type":"quantitative","axis":{"orient":"left","title":"−\u00a0t","titleX":-31,"titleY":214.8,"titleFontSize":23,"domain":false,"ticks":false,"labels":false,"titleAlign":"left","titleBaseline":"alphabetic","titleAngle":-90}}}},
{"data":{"name":"stars"},"transform":[{"filter":"datum.p==='bot'"}],"mark":{"type":"point","opacity":0},
 "encoding":{"x":{"field":"x","type":"quantitative","axis":{"orient":"bottom","title":"⊙","titleX":326.7,"titleY":59,"titleFontSize":16,"domain":false,"ticks":false,"labels":false,"titleAlign":"left","titleBaseline":"alphabetic","titleAngle":0}},
  "y":{"field":"y","type":"quantitative","axis":{"orient":"left","title":"quench","titleX":-26,"titleY":176.5,"titleFontSize":16,"domain":false,"ticks":false,"labels":false,"titleAlign":"left","titleBaseline":"alphabetic","titleAngle":-90}}}},
{"data":{"name":"stars"},"transform":[{"filter":"datum.p==='bot'"}],"mark":{"type":"point","opacity":0},
 "encoding":{"x":{"field":"x","type":"quantitative","axis":{"orient":"bottom","title":")","titleX":340.1,"titleY":54,"titleFontSize":24,"domain":false,"ticks":false,"labels":false,"titleAlign":"left","titleBaseline":"alphabetic","titleAngle":0}},
  "y":{"field":"y","type":"quantitative","axis":{"orient":"left","title":"[Gyr]","titleX":-31,"titleY":102.5,"titleFontSize":23,"domain":false,"ticks":false,"labels":false,"titleAlign":"left","titleBaseline":"alphabetic","titleAngle":-90}}}}
]
}
],
"spacing":27,
"resolve":{"scale":{"color":"independent","fill":"independent","stroke":"independent","shape":"independent"},"legend":{"color":"independent","fill":"independent","stroke":"independent","shape":"independent"}},
"config":{
 "view":{"stroke":"black","strokeWidth":2.5},
 "axis":{"grid":false,"domainColor":"black","domainWidth":2.5,"tickColor":"black","tickWidth":1.5,"labelFont":"Liberation Sans","labelFontSize":22,"labelColor":"black","titleFont":"DejaVu Sans","titleFontWeight":"bold","titleColor":"black"}
}
}
